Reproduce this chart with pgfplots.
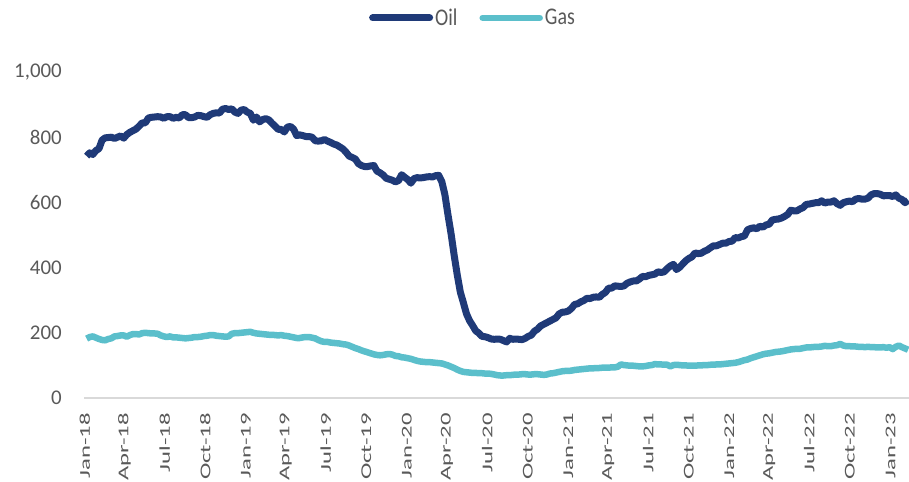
\documentclass[border=0pt]{standalone}
\usepackage{fontspec}
\setmainfont{Carlito}
\usepackage{graphicx}
\usepackage{pgfplots}
\pgfplotsset{compat=1.18}
\usepackage{pgfplotstable}
\definecolor{oilblue}{HTML}{1F3A78}
\definecolor{gasteal}{HTML}{5BBFCB}
\definecolor{labelgray}{HTML}{595959}
\definecolor{axisgray}{HTML}{D9D9D9}
\newcommand{\xl}[1]{\scalebox{1.65}[1]{#1}}
\newcommand{\legtext}[1]{\scalebox{1}[1.2]{#1}}

% weekly rig counts, d = days since 1 Jan 2018
\pgfplotstableread{
d oil gas
4 742 182
11 752 187
18 747 189
25 759 185
32 765 181
39 791 178
46 798 177
53 799 181
60 800 183
67 796 189
74 800 190
81 804 192
88 797 192
95 808 188
102 815 193
109 820 196
116 825 196
123 834 195
130 844 199
137 844 200
144 859 199
151 861 198
158 862 198
165 863 197
172 862 192
179 858 189
186 863 187
193 863 189
200 858 186
207 861 186
214 859 185
221 869 184
228 869 183
235 860 184
242 860 185
249 862 187
256 867 187
263 866 188
270 863 190
277 861 191
284 869 193
291 873 193
298 875 191
305 874 190
312 886 189
319 888 188
326 885 189
333 887 197
340 877 199
347 873 199
354 883 200
361 885 201
368 877 202
375 873 203
382 852 200
389 862 198
396 847 197
403 854 196
410 857 195
417 853 194
424 843 194
431 834 193
438 824 192
445 824 193
452 816 191
459 831 190
466 833 188
473 825 186
480 805 184
487 807 184
494 805 186
501 802 187
508 802 187
515 800 185
522 789 183
529 788 178
536 789 174
543 793 172
550 788 172
557 784 170
564 779 169
571 776 168
578 770 167
585 764 165
592 754 164
599 742 161
606 738 157
613 733 153
620 719 150
627 713 146
634 710 143
641 710 140
648 712 137
655 713 134
662 696 132
669 691 131
676 684 132
683 674 134
690 671 135
697 668 133
704 663 129
711 667 128
718 685 125
725 677 124
732 670 122
739 659 120
746 673 117
753 676 114
760 675 112
767 676 111
774 678 110
781 679 110
788 678 109
795 682 108
802 683 107
809 664 106
816 624 103
823 562 100
830 504 96
837 438 92
844 378 87
851 325 83
858 292 80
865 258 79
872 237 78
879 222 77
886 206 77
893 199 76
900 189 76
907 188 75
914 185 75
921 181 74
928 180 72
935 181 70
942 180 69
949 176 69
956 172 70
963 183 70
970 180 71
977 181 72
984 180 72
991 179 73
998 183 73
1005 189 72
1012 193 72
1019 205 73
1026 211 73
1033 221 72
1040 226 71
1047 231 72
1054 236 75
1061 241 76
1068 246 78
1075 258 80
1082 263 82
1089 264 83
1096 267 83
1103 275 84
1110 287 86
1117 289 87
1124 295 88
1131 299 89
1138 306 90
1145 305 91
1152 309 91
1159 310 92
1166 309 92
1173 318 93
1180 324 93
1187 337 93
1194 337 94
1201 344 94
1208 343 96
1215 342 103
1222 344 101
1229 352 100
1236 356 99
1243 359 99
1250 359 98
1257 365 97
1264 373 97
1271 372 98
1278 376 100
1285 378 101
1292 380 104
1299 387 103
1306 385 103
1313 387 102
1320 397 102
1327 405 97
1334 410 101
1341 394 102
1348 401 101
1355 411 100
1362 421 100
1369 428 99
1376 433 99
1383 445 99
1390 443 100
1397 444 100
1404 450 101
1411 454 101
1418 461 102
1425 467 102
1432 467 103
1439 471 103
1446 475 104
1453 475 105
1460 480 106
1467 481 107
1474 492 108
1481 491 110
1488 495 113
1495 497 116
1502 516 118
1509 520 122
1516 522 125
1523 519 128
1530 527 131
1537 524 134
1544 531 136
1551 533 137
1558 546 139
1565 548 141
1572 549 142
1579 552 143
1586 557 145
1593 563 147
1600 576 149
1607 574 150
1614 574 151
1621 580 151
1628 584 153
1635 594 155
1642 595 155
1649 597 156
1656 599 157
1663 599 157
1670 605 158
1677 598 160
1684 601 159
1691 601 159
1698 605 161
1705 596 162
1712 591 166
1719 599 161
1726 602 159
1733 604 159
1740 602 158
1747 610 158
1754 612 157
1761 610 157
1768 610 156
1775 613 157
1782 623 156
1789 627 156
1796 627 155
1803 625 155
1810 620 156
1817 621 154
1824 621 156
1831 618 150
1838 623 157
1845 613 161
1852 609 156
1859 599 152
1866 607 148
}\rigs

\begin{document}
\begin{tikzpicture}
\path[use as bounding box] (0bp,0bp) rectangle (909bp,482bp);
\begin{axis}[
  at={(84bp,84bp)}, anchor=south west,
  scale only axis, width=825bp, height=326bp,
  xmin=-2, xmax=1868, ymin=0, ymax=1000,
  axis x line*=bottom, axis y line*=left,
  x axis line style={axisgray, line width=2bp},
  y axis line style={draw=none},
  major tick length=0pt,
  xtick={0,90,181,273,365,455,546,638,730,821,912,1004,1096,1186,1277,1369,1461,1551,1642,1734,1826},
  xticklabels={\xl{Jan-18},\xl{Apr-18},\xl{Jul-18},\xl{Oct-18},\xl{Jan-19},\xl{Apr-19},\xl{Jul-19},\xl{Oct-19},\xl{Jan-20},\xl{Apr-20},\xl{Jul-20},\xl{Oct-20},\xl{Jan-21},\xl{Apr-21},\xl{Jul-21},\xl{Oct-21},\xl{Jan-22},\xl{Apr-22},\xl{Jul-22},\xl{Oct-22},\xl{Jan-23}},
  x tick label style={rotate=90, anchor=east, inner sep=0pt, font=\fontsize{15}{15}\selectfont, text=labelgray},
  xticklabel shift=15bp,
  ytick={0,200,400,600,800,1000},
  y tick label style={inner sep=0pt, font=\fontsize{21}{21}\selectfont, text=labelgray},
  yticklabel shift=22bp,
  /pgf/number format/1000 sep={,},
  /pgf/number format/assume math mode=true,
  legend columns=2,
  legend style={at={(0.4715,1.166)}, anchor=center, draw=none, fill=none,
    font=\fontsize{20}{20}\selectfont, text=labelgray,
    /tikz/every even column/.append style={column sep=20bp}},
  legend image code/.code={\draw[#1, line cap=round] (0bp,0bp) -- (57bp,0bp);},
  line join=round,
]
\addplot[oilblue, line width=7bp] table[x=d, y=oil] {\rigs};
\addlegendentry{\legtext{Oil}}
\addplot[gasteal, line width=6.5bp] table[x=d, y=gas] {\rigs};
\addlegendentry{\legtext{Gas}}
\end{axis}
\end{tikzpicture}
\end{document}
